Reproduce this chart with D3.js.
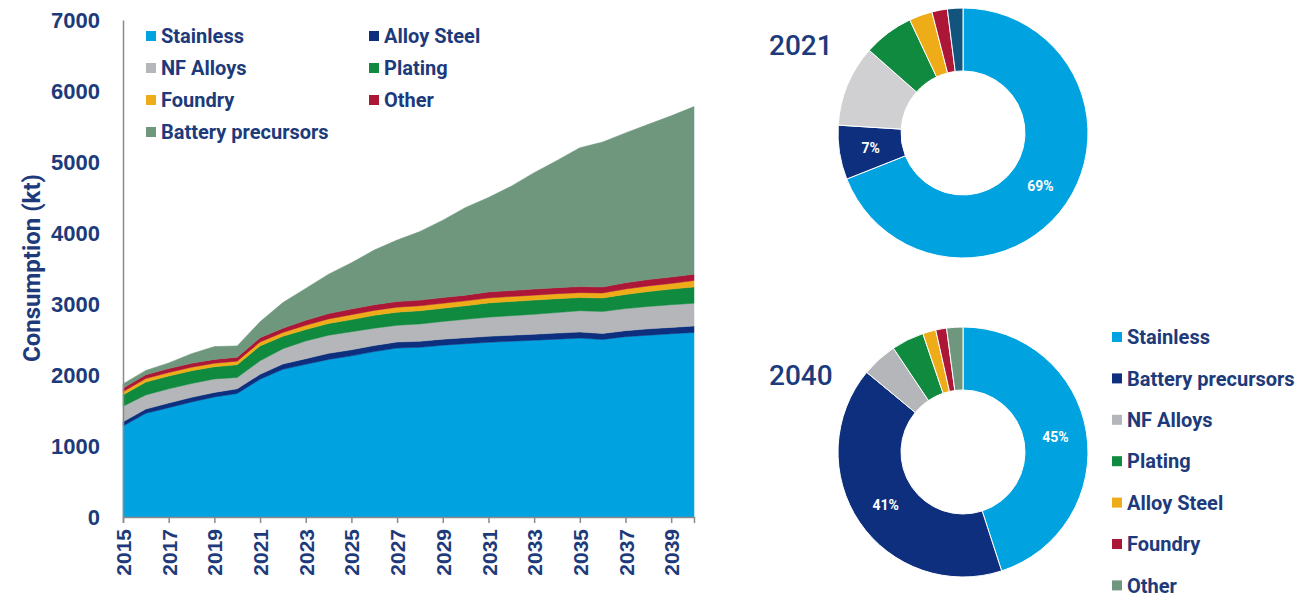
<!DOCTYPE html>
<html>
<head>
<meta charset="utf-8">
<script src="https://cdn.jsdelivr.net/npm/d3@7"></script>
<style>
  body { margin: 0; background: #fff; }
  svg { font-family: Roboto, "Liberation Sans", sans-serif; }
</style>
</head>
<body>
<div id="chart"></div>
<script>
// ---- data ----
const years = d3.range(2015, 2041);
const stainless  = [1280,1460,1540,1620,1690,1740,1940,2080,2150,2220,2270,2330,2380,2390,2420,2440,2460,2475,2490,2505,2520,2500,2540,2560,2580,2600];
const alloySteel = [60,60,65,65,65,65,70,75,80,85,85,85,85,85,85,85,85,85,85,85,85,85,85,90,90,90];
const nfAlloys   = [220,200,200,195,190,160,190,215,250,255,255,245,235,245,250,260,270,275,280,290,300,310,310,315,320,320];
const plating    = [160,180,180,180,170,180,210,175,160,165,170,180,185,185,185,190,200,200,200,195,185,190,200,210,220,230];
const foundry    = [45,50,50,50,50,50,55,55,60,65,70,70,70,70,70,70,70,70,70,70,70,70,75,80,80,90];
const other      = [50,55,55,55,55,55,60,60,70,75,80,80,80,80,80,80,85,85,85,85,85,85,90,90,90,90];
const battery    = [60,60,80,135,180,160,225,360,450,555,650,770,865,965,1090,1235,1330,1470,1640,1790,1955,2040,2110,2185,2270,2360];

const areaKeys = ["Stainless","Alloy Steel","NF Alloys","Plating","Foundry","Other","Battery precursors"];
const areaColors = ["#00a3e0","#0d2f7e","#b5b6b9","#0f8a3f","#efac19","#ad1737","#6f977d"];
const yTicks = [0,1000,2000,3000,4000,5000,6000,7000];
const xTicks = d3.range(2015, 2040, 2);

const legendLeft = ["Stainless","NF Alloys","Foundry","Battery precursors"];
const legendRight = ["Alloy Steel","Plating","Other"];

const pie2021Labels = ["Stainless","Battery precursors","NF Alloys","Plating","Alloy Steel","Foundry","Other"];
const pie2021Values = [69,7,10.5,6.5,3,2,2];
const pie2021Colors = ["#00a3e0","#0d2f7e","#d0d0d2","#0f8a3f","#efac19","#ad1737","#11557f"];

const pie2040Labels = ["Stainless","Battery precursors","NF Alloys","Plating","Alloy Steel","Foundry","Other"];
const pie2040Values = [45,41,4.6,4.2,1.7,1.4,2.1];
const pie2040Colors = ["#00a3e0","#0d2f7e","#b5b6b9","#0f8a3f","#efac19","#ad1737","#6f977d"];

const navy = "#1d3a7a";

const svg = d3.select("#chart").append("svg")
  .attr("width", 1304)
  .attr("height", 597);

// ---- stacked area ----
const table = years.map(function (yr, i) {
  return {
    year: yr,
    "Stainless": stainless[i],
    "Alloy Steel": alloySteel[i],
    "NF Alloys": nfAlloys[i],
    "Plating": plating[i],
    "Foundry": foundry[i],
    "Other": other[i],
    "Battery precursors": battery[i]
  };
});

const x = d3.scaleLinear().domain([2015, 2040]).range([123, 694]);
const y = d3.scaleLinear().domain([0, 7000]).range([517, 20]);
const color = d3.scaleOrdinal().domain(areaKeys).range(areaColors);

const series = d3.stack().keys(areaKeys)(table);
const area = d3.area()
  .x(function (d) { return x(d.data.year); })
  .y0(function (d) { return y(d[0]); })
  .y1(function (d) { return y(d[1]); });

svg.append("g")
  .selectAll("path")
  .data(series)
  .join("path")
  .attr("d", area)
  .attr("fill", function (d) { return color(d.key); })
  .attr("stroke", function (d) { return color(d.key); })
  .attr("stroke-width", 0.5);

// y axis
const yAxis = svg.append("g")
  .attr("transform", "translate(123,0)")
  .call(d3.axisLeft(y).tickValues(yTicks).tickSize(0).tickPadding(23).tickFormat(d3.format("d")));
yAxis.select(".domain").attr("stroke", "#8a8a8a").attr("stroke-width", 1.5);
yAxis.selectAll("text")
  .attr("fill", navy)
  .style("font-size", "22px")
  .style("font-weight", "700");

// x axis
const xAxis = svg.append("g")
  .attr("transform", "translate(0,517)")
  .call(d3.axisBottom(x).tickValues(xTicks).tickSize(6).tickFormat(d3.format("d")));
xAxis.select(".domain").attr("stroke", "#8a8a8a").attr("stroke-width", 1.5);
xAxis.selectAll("line").attr("stroke", "#8a8a8a").attr("stroke-width", 1.5);
xAxis.selectAll("text")
  .attr("transform", "rotate(-90)")
  .attr("x", -12)
  .attr("y", 0)
  .attr("dy", "0.36em")
  .attr("text-anchor", "end")
  .attr("fill", navy)
  .style("font-size", "21px")
  .style("font-weight", "700");

svg.append("text")
  .attr("transform", "translate(40,268) rotate(-90)")
  .attr("text-anchor", "middle")
  .attr("fill", navy)
  .style("font-size", "24px")
  .style("font-weight", "700")
  .text("Consumption (kt)");

// legends
function drawLegend(items, x0, y0, step, colorOf) {
  const g = svg.append("g");
  const row = g.selectAll("g")
    .data(items)
    .join("g")
    .attr("transform", function (d, i) { return `translate(${x0},${y0 + i * step})`; });
  row.append("rect")
    .attr("x", 0).attr("y", -5)
    .attr("width", 10).attr("height", 10)
    .attr("fill", colorOf);
  row.append("text")
    .attr("x", 15)
    .attr("dy", "0.36em")
    .attr("fill", navy)
    .style("font-size", "20px")
    .style("font-weight", "700")
    .text(function (d) { return d; });
}
drawLegend(legendLeft, 146, 36, 32, function (d) { return color(d); });
drawLegend(legendRight, 369, 36, 32, function (d) { return color(d); });

// ---- donuts ----
function drawDonut(labels, values, colors, cx, cy, title, titleY, shown) {
  const data = labels.map(function (l, i) { return { label: l, value: values[i], color: colors[i] }; });
  const pie = d3.pie().sort(null).value(function (d) { return d.value; });
  const arc = d3.arc().innerRadius(62).outerRadius(125);
  const g = svg.append("g").attr("transform", `translate(${cx},${cy})`);
  const arcs = pie(data);
  g.selectAll("path")
    .data(arcs)
    .join("path")
    .attr("d", arc)
    .attr("fill", function (d) { return d.data.color; })
    .attr("stroke", "#fff")
    .attr("stroke-width", 1);
  g.selectAll("text")
    .data(arcs.filter(function (d) { return shown.indexOf(d.data.label) >= 0; }))
    .join("text")
    .attr("transform", function (d) { return `translate(${arc.centroid(d)})`; })
    .attr("text-anchor", "middle")
    .attr("dy", "0.36em")
    .attr("fill", "#fff")
    .style("font-size", "14px")
    .style("font-weight", "700")
    .text(function (d) { return Math.round(d.data.value) + "%"; });
  svg.append("text")
    .attr("x", 769)
    .attr("y", titleY)
    .attr("dy", "0.36em")
    .attr("fill", navy)
    .style("font-size", "28px")
    .style("font-weight", "500")
    .text(title);
}
drawDonut(pie2021Labels, pie2021Values, pie2021Colors, 963, 133, "2021", 45, ["Stainless","Battery precursors"]);
drawDonut(pie2040Labels, pie2040Values, pie2040Colors, 963, 452, "2040", 375, ["Stainless","Battery precursors"]);

// donut legend
const pieColor = d3.scaleOrdinal().domain(pie2040Labels).range(pie2040Colors);
drawLegend(pie2040Labels, 1112, 337, 41.4, function (d) { return pieColor(d); });
</script>
</body>
</html>
